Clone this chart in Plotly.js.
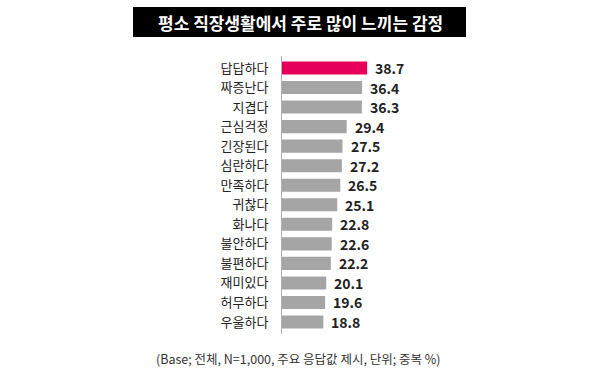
<!DOCTYPE html>
<html><head><meta charset="utf-8">
<script src="https://cdn.plot.ly/plotly-3.0.1.min.js"></script>
<style>html,body{margin:0;padding:0;background:#fff;}#c{width:600px;height:379px;}</style>
</head><body><div id="c"></div>
<script>
const categories = ['답답하다','짜증난다','지겹다','근심걱정','긴장된다','심란하다','만족하다','귀찮다','화나다','불안하다','불편하다','재미있다','허무하다','우울하다'];
const values = [38.7,36.4,36.3,29.4,27.5,27.2,26.5,25.1,22.8,22.6,22.2,20.1,19.6,18.8];
const valueLabels = ['38.7','36.4','36.3','29.4','27.5','27.2','26.5','25.1','22.8','22.6','22.2','20.1','19.6','18.8'];
const titleText = '평소 직장생활에서 주로 많이 느끼는 감정';
const noteText = '(Base; 전체, N=1,000, 주요 응답값 제시, 단위; 중복 %)';

const L=282, W=110, T=56, H=278;
const px = p => (p-L)/W;
const py = p => (T+H-p)/H;
const colors = values.map((v,i)=> i===0 ? '#E6005C' : '#A5A5A5');
const font = '"Noto Sans CJK KR", "Noto Sans", sans-serif';

const valueAnn = values.map((v,i)=>({
  xref:'x', yref:'y', x:v, y:categories[i], xanchor:'left', yanchor:'middle', xshift:6,
  text:valueLabels[i], showarrow:false,
  font:{family:font, size:14, color:'#222', weight:'bold'}
}));

Plotly.newPlot('c', [{
  type:'bar', orientation:'h',
  y: categories, x: values,
  marker:{color:colors},
  hoverinfo:'none'
}], {
  width:600, height:379,
  margin:{l:L, r:600-L-W, t:T, b:379-T-H, pad:0},
  paper_bgcolor:'#fff', plot_bgcolor:'#fff',
  bargap:0.33,
  showlegend:false,
  xaxis:{range:[0,50], visible:false, fixedrange:true},
  yaxis:{autorange:'reversed', showline:true, linecolor:'#B0B0B0', linewidth:1,
         showgrid:false, zeroline:false, ticks:'', ticklabelstandoff:10,
         tickfont:{family:font, size:13, color:'#222'}},
  shapes:[{type:'rect', xref:'paper', yref:'paper', x0:px(133), x1:px(466), y0:py(37), y1:py(7),
           fillcolor:'#000', line:{width:0}, layer:'above'}],
  annotations:[
    {xref:'paper', yref:'paper', x:px(300), y:py(22), xanchor:'center', yanchor:'middle',
     text:titleText, showarrow:false, font:{family:font, size:17, color:'#fff', weight:'bold'}},
    {xref:'paper', yref:'paper', x:px(298), y:py(358), xanchor:'center', yanchor:'middle',
     text:noteText, showarrow:false, font:{family:font, size:12.5, color:'#333'}}
  ].concat(valueAnn)
}, {staticPlot:true});
</script></body></html>
